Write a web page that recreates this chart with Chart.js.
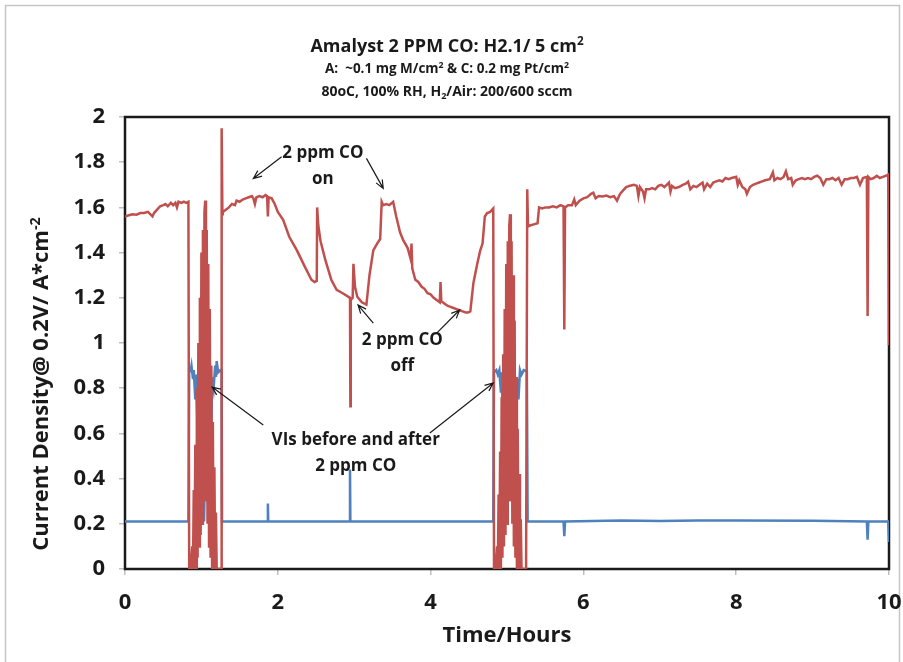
<!DOCTYPE html>
<html>
<head>
<meta charset="utf-8">
<script src="https://cdn.jsdelivr.net/npm/chart.js"></script>
<style>
    body { margin: 0; background: #fff; }
    .chart-box { width: 903px; height: 662px; position: relative; }
</style>
</head>
<body>
<div class="chart-box">
    <canvas id="co-chart"></canvas>
</div>

<script>
    // Serie roja: densidad de corriente (tiempo en horas, valor en A/cm2)
    var redTime = [
        0.00, 0.05, 0.10, 0.15, 0.20, 0.25, 0.30, 0.33, 0.36, 0.38, 0.42, 0.46, 0.50, 0.53, 0.56, 0.60, 0.63, 0.66, 0.68, 0.70, 0.74, 0.77, 0.80, 0.83,
        0.84, 0.86, 0.88, 0.89, 0.90, 0.91, 0.92, 0.93, 0.94, 0.95, 0.96, 0.97, 0.98, 0.99, 1.00, 1.01, 1.02, 1.03, 1.04, 1.05,
        1.06, 1.07, 1.08, 1.09, 1.10, 1.11, 1.12, 1.13, 1.14, 1.15, 1.16, 1.17, 1.18, 1.19, 1.20, 1.22, 1.25, 1.26, 1.265, 1.275,
        1.28, 1.32, 1.36, 1.40, 1.44, 1.46, 1.50, 1.54, 1.58, 1.62, 1.66, 1.68, 1.70, 1.72, 1.76, 1.80, 1.84, 1.86, 1.87, 1.88, 1.92, 1.96, 2.00, 2.07,
        2.15, 2.25, 2.35, 2.44, 2.48, 2.51, 2.515, 2.53, 2.56, 2.62, 2.70, 2.77, 2.85, 2.92, 2.945, 2.95, 2.955, 2.98, 2.99, 3.01, 3.04, 3.10, 3.16,
        3.20, 3.25, 3.30, 3.34, 3.36, 3.38, 3.42, 3.46, 3.51, 3.55, 3.60, 3.64, 3.70, 3.74, 3.75, 3.76, 3.80, 3.84, 3.88, 3.92, 3.96, 4.00, 4.04, 4.08,
        4.12, 4.13, 4.14, 4.18, 4.22, 4.26, 4.30, 4.34, 4.38, 4.42, 4.46, 4.49, 4.52, 4.56, 4.61, 4.65, 4.68, 4.71, 4.74, 4.78, 4.82,
        4.83, 4.85, 4.87, 4.88, 4.89, 4.90, 4.91, 4.92, 4.93, 4.94, 4.95, 4.96, 4.97, 4.98, 4.99, 5.00, 5.01, 5.02, 5.03, 5.04,
        5.05, 5.06, 5.07, 5.08, 5.09, 5.10, 5.11, 5.12, 5.13, 5.14, 5.15, 5.16, 5.17, 5.18, 5.19, 5.21, 5.25, 5.26, 5.265, 5.275,
        5.30, 5.35, 5.40, 5.42, 5.46, 5.50, 5.55, 5.60, 5.65, 5.70, 5.74, 5.75, 5.76, 5.80, 5.85, 5.88, 5.90, 5.95, 6.00, 6.05, 6.10, 6.13, 6.16, 6.20,
        6.25, 6.30, 6.35, 6.40, 6.44, 6.48, 6.52, 6.56, 6.60, 6.66, 6.70, 6.72, 6.74, 6.78, 6.80, 6.82, 6.86, 6.90, 6.94, 6.98, 7.02, 7.06, 7.09, 7.12,
        7.14, 7.16, 7.20, 7.25, 7.30, 7.34, 7.37, 7.40, 7.44, 7.48, 7.52, 7.56, 7.58, 7.62, 7.66, 7.70, 7.74, 7.78, 7.82, 7.86, 7.90, 7.94, 8.00, 8.02,
        8.04, 8.08, 8.12, 8.14, 8.18, 8.22, 8.26, 8.30, 8.34, 8.38, 8.44, 8.48, 8.50, 8.54, 8.58, 8.62, 8.65, 8.68, 8.72, 8.74, 8.78, 8.82, 8.86, 8.90,
        8.94, 8.98, 9.02, 9.06, 9.10, 9.14, 9.18, 9.22, 9.26, 9.30, 9.34, 9.38, 9.42, 9.46, 9.50, 9.54, 9.58, 9.62, 9.66, 9.70, 9.71, 9.72, 9.73, 9.76,
        9.80, 9.84, 9.88, 9.92, 9.96, 9.99, 10.00
    ];
    var redValue = [
        1.56, 1.565, 1.57, 1.568, 1.575, 1.575, 1.58, 1.57, 1.56, 1.575, 1.59, 1.605, 1.61, 1.615, 1.605, 1.62, 1.61, 1.62, 1.60, 1.625, 1.62, 1.625, 1.62, 1.625,
        0, 0, 0.1, 0, 0.35, 0, 0.55, 0, 0.8, 0.05, 1.0, 0.1, 1.2, 0.15, 1.4, 0.2, 1.5, 0.3, 1.58, 1.63,
        0.3, 1.5, 0.2, 1.35, 0.1, 1.15, 0.05, 0.9, 0, 0.65, 0, 0.45, 0, 0.25, 0, 0, 0, 0, 1.95, 1.57,
        1.58, 1.59, 1.60, 1.615, 1.61, 1.63, 1.625, 1.635, 1.64, 1.645, 1.65, 1.64, 1.615, 1.645, 1.65, 1.645, 1.655, 1.65, 1.56, 1.645, 1.64, 1.615, 1.58, 1.545,
        1.47, 1.41, 1.34, 1.28, 1.27, 1.275, 1.60, 1.52, 1.45, 1.37, 1.28, 1.235, 1.22, 1.205, 1.20, 0.72, 1.19, 1.20, 1.35, 1.25, 1.205, 1.18, 1.17,
        1.30, 1.41, 1.44, 1.46, 1.625, 1.61, 1.615, 1.61, 1.625, 1.56, 1.49, 1.456, 1.42, 1.37, 1.44, 1.33, 1.28, 1.27, 1.25, 1.24, 1.22, 1.215, 1.20, 1.19,
        1.18, 1.27, 1.185, 1.175, 1.165, 1.16, 1.155, 1.15, 1.145, 1.14, 1.135, 1.135, 1.14, 1.265, 1.35, 1.41, 1.44, 1.56, 1.575, 1.58, 1.595,
        0, 0, 0.1, 0, 0.33, 0, 0.52, 0, 0.76, 0.05, 0.95, 0.1, 1.15, 0.15, 1.35, 0.2, 1.45, 0.3, 1.52, 1.57,
        0.3, 1.45, 0.2, 1.3, 0.1, 1.1, 0.05, 0.85, 0, 0.62, 0, 0.42, 0, 0.22, 0, 0, 0, 0, 1.68, 1.515,
        1.52, 1.525, 1.53, 1.60, 1.595, 1.60, 1.60, 1.605, 1.60, 1.61, 1.605, 1.06, 1.60, 1.61, 1.61, 1.635, 1.61, 1.63, 1.64, 1.645, 1.66, 1.665, 1.64, 1.65,
        1.648, 1.652, 1.645, 1.65, 1.63, 1.66, 1.675, 1.69, 1.695, 1.70, 1.695, 1.65, 1.69, 1.67, 1.64, 1.68, 1.68, 1.685, 1.68, 1.695, 1.70, 1.69, 1.70, 1.71,
        1.67, 1.695, 1.685, 1.69, 1.70, 1.705, 1.714, 1.68, 1.695, 1.69, 1.70, 1.71, 1.68, 1.705, 1.69, 1.71, 1.715, 1.72, 1.715, 1.73, 1.725, 1.73, 1.735, 1.70,
        1.72, 1.69, 1.68, 1.66, 1.69, 1.70, 1.705, 1.71, 1.715, 1.72, 1.725, 1.755, 1.72, 1.73, 1.725, 1.735, 1.76, 1.725, 1.73, 1.70, 1.72, 1.725, 1.73, 1.725,
        1.73, 1.725, 1.735, 1.74, 1.73, 1.70, 1.725, 1.725, 1.73, 1.72, 1.73, 1.70, 1.725, 1.725, 1.73, 1.73, 1.735, 1.70, 1.73, 1.735, 1.74, 1.12, 1.735, 1.725,
        1.73, 1.74, 1.73, 1.735, 1.74, 1.745, 0.99
    ];

    // Serie azul: corriente de referencia con los barridos VI
    var blueTime = [
        0.00, 0.83, 0.84, 0.86, 0.87, 0.89, 0.90, 0.92, 0.93, 0.95, 0.96, 0.98, 0.99, 1.01, 1.02, 1.035, 1.05, 1.07, 1.08, 1.10, 1.11, 1.13, 1.14, 1.16,
        1.18, 1.19, 1.20, 1.22, 1.25, 1.265, 1.27, 1.86, 1.87, 1.875, 2.94, 2.945, 2.95, 4.82,
        4.83, 4.86, 4.88, 4.90, 4.92, 4.93, 4.95, 4.97, 4.99, 5.01, 5.03, 5.05, 5.07, 5.09, 5.11, 5.13, 5.15, 5.17, 5.19, 5.22, 5.26, 5.27,
        5.74, 5.75, 5.76, 6.50, 7.00, 7.50, 8.00, 9.00, 9.71, 9.72, 9.73, 9.99, 10.00
    ];
    var blueValue = [
        0.21, 0.21, 0.89, 0.88, 0.90, 0.84, 0.88, 0.75, 0.86, 0.62, 0.80, 0.50, 0.70, 0.35, 0.60, 0.21, 0.50, 0.30, 0.60, 0.45, 0.75, 0.60, 0.85, 0.80,
        0.90, 0.85, 0.92, 0.87, 0.88, 0.88, 0.21, 0.21, 0.29, 0.21, 0.21, 0.44, 0.21, 0.21,
        0.87, 0.88, 0.86, 0.88, 0.78, 0.87, 0.60, 0.82, 0.45, 0.70, 0.30, 0.55, 0.35, 0.70, 0.55, 0.84, 0.75, 0.88, 0.86, 0.88, 0.875, 0.21,
        0.21, 0.145, 0.21, 0.215, 0.212, 0.215, 0.215, 0.213, 0.21, 0.13, 0.21, 0.21, 0.12
    ];

    // Etiquetas de los ejes
    var xTicks = [0, 2, 4, 6, 8, 10];
    var yTicks = [0, 0.2, 0.4, 0.6, 0.8, 1, 1.2, 1.4, 1.6, 1.8, 2];

    // Anotaciones (posiciones en unidades de los datos)
    var noteTexts = [['2 ppm CO', 'on'], ['2 ppm CO', 'off'], ['VIs before and after', '2 ppm CO']];
    var noteX = [2.59, 3.63, 3.02];
    var noteY = [1.84, 1.013, 0.571];
    var arrowFrom = [[2.05, 1.824], [3.16, 1.817], [3.25, 1.088], [4.08, 1.044], [1.81, 0.637], [3.99, 0.602]];
    var arrowTo = [[1.68, 1.728], [3.38, 1.684], [3.05, 1.168], [4.38, 1.146], [1.14, 0.805], [4.82, 0.823]];

    var FONT = '"Open Sans", "DejaVu Sans", sans-serif';

    function toPoints(xs, ys) {
        return xs.map(function (x, i) { return { x: x, y: ys[i] }; });
    }

    // Dibuja texto con superindices / subindices, centrado en cx
    function drawRich(ctx, parts, cx, cy, size) {
        var widths = [];
        var total = 0;
        parts.forEach(function (p) {
            var s = p[1] ? size * 0.65 : size;
            ctx.font = 'bold ' + s + 'px ' + FONT;
            var w = ctx.measureText(p[0]).width;
            widths.push(w);
            total += w;
        });
        var x = cx - total / 2;
        ctx.textAlign = 'left';
        ctx.textBaseline = 'alphabetic';
        parts.forEach(function (p, i) {
            var s = p[1] ? size * 0.65 : size;
            var dy = p[1] === 'sup' ? -size * 0.38 : (p[1] === 'sub' ? size * 0.2 : 0);
            ctx.font = 'bold ' + s + 'px ' + FONT;
            ctx.fillText(p[0], x, cy + dy);
            x += widths[i];
        });
    }

    function drawArrow(ctx, x1, y1, x2, y2) {
        var ang = Math.atan2(y2 - y1, x2 - x1);
        var head = 9;
        ctx.beginPath();
        ctx.moveTo(x1, y1);
        ctx.lineTo(x2, y2);
        ctx.moveTo(x2 - head * Math.cos(ang - 0.4), y2 - head * Math.sin(ang - 0.4));
        ctx.lineTo(x2, y2);
        ctx.lineTo(x2 - head * Math.cos(ang + 0.4), y2 - head * Math.sin(ang + 0.4));
        ctx.stroke();
    }

    // Borde exterior (debajo de todo) y marco del area de la grafica (debajo de las lineas)
    var framePlugin = {
        id: 'frame',
        beforeDraw: function (chart) {
            var ctx = chart.ctx;
            ctx.save();
            ctx.strokeStyle = '#c6c6c6';
            ctx.lineWidth = 1.5;
            ctx.strokeRect(5.5, 5.5, 894, 660);
            ctx.restore();
        },
        beforeDatasetsDraw: function (chart) {
            var a = chart.chartArea;
            var ctx = chart.ctx;
            ctx.save();
            ctx.strokeStyle = '#1a1a1a';
            ctx.lineWidth = 2.5;
            ctx.strokeRect(a.left, a.top, a.right - a.left, a.bottom - a.top);
            ctx.restore();
        }
    };

    // Titulos, textos de los ejes y anotaciones
    var textPlugin = {
        id: 'texts',
        afterDraw: function (chart) {
            var ctx = chart.ctx;
            var xs = chart.scales.x;
            var ys = chart.scales.y;
            ctx.save();
            ctx.fillStyle = '#1a1a1a';

            drawRich(ctx, [['Amalyst 2 PPM CO: H2.1/ 5 cm', ''], ['2', 'sup']], 447, 52, 18);
            drawRich(ctx, [['A:  ~0.1 mg M/cm', ''], ['2', 'sup'], [' & C: 0.2 mg Pt/cm', ''], ['2', 'sup']], 447, 73, 13.5);
            drawRich(ctx, [['80oC, 100% RH, H', ''], ['2', 'sub'], ['/Air: 200/600 sccm', '']], 447, 96, 14);

            drawRich(ctx, [['Time/Hours', '']], (xs.left + xs.right) / 2, 642, 22);

            ctx.save();
            ctx.translate(48, 384);
            ctx.rotate(-Math.PI / 2);
            drawRich(ctx, [['Current Density@ 0.2V/ A*cm', ''], ['-2', 'sup']], 0, 0, 22);
            ctx.restore();

            ctx.textAlign = 'center';
            ctx.textBaseline = 'middle';
            ctx.font = 'bold 17px ' + FONT;
            noteTexts.forEach(function (lines, i) {
                var cx = xs.getPixelForValue(noteX[i]);
                var cy = ys.getPixelForValue(noteY[i]);
                lines.forEach(function (t, j) {
                    ctx.fillText(t, cx, cy + j * 26);
                });
            });

            ctx.strokeStyle = '#1a1a1a';
            ctx.lineWidth = 1.2;
            arrowFrom.forEach(function (f, i) {
                var t = arrowTo[i];
                drawArrow(ctx, xs.getPixelForValue(f[0]), ys.getPixelForValue(f[1]),
                    xs.getPixelForValue(t[0]), ys.getPixelForValue(t[1]));
            });
            ctx.restore();
        }
    };

    var ctx = document.getElementById('co-chart').getContext('2d');

    var coChart = new Chart(ctx, {
        type: 'line',
        data: {
            datasets: [{
                label: 'Current',
                data: toPoints(redTime, redValue),
                borderColor: '#c0504d',
                borderWidth: 2.5,
                pointRadius: 0,
                tension: 0,
                fill: false
            }, {
                label: 'Reference',
                data: toPoints(blueTime, blueValue),
                borderColor: '#4f81bd',
                borderWidth: 2.5,
                pointRadius: 0,
                tension: 0,
                fill: false
            }]
        },
        options: {
            responsive: true,
            maintainAspectRatio: false,
            animation: false,
            layout: { padding: { top: 117, right: 14, left: 0, bottom: 0 } },
            plugins: {
                legend: { display: false },
                tooltip: { enabled: false }
            },
            scales: {
                x: {
                    type: 'linear',
                    min: 0,
                    max: 10,
                    afterFit: function (scale) {
                        scale.height = 93;
                        scale.paddingLeft = 0;
                        scale.paddingRight = 0;
                    },
                    afterBuildTicks: function (scale) {
                        scale.ticks = xTicks.map(function (v) { return { value: v }; });
                    },
                    grid: { drawOnChartArea: false, color: '#bfbfbf', tickLength: 6, lineWidth: 1.5 },
                    border: { display: false },
                    ticks: {
                        color: '#1a1a1a',
                        padding: 15,
                        maxRotation: 0,
                        font: { family: FONT, size: 22, weight: 'bold' },
                        callback: function (v) { return String(v); }
                    }
                },
                y: {
                    min: 0,
                    max: 2,
                    afterFit: function (scale) {
                        scale.width = 125;
                        scale.paddingTop = 0;
                        scale.paddingBottom = 0;
                    },
                    afterBuildTicks: function (scale) {
                        scale.ticks = yTicks.map(function (v) { return { value: v }; });
                    },
                    grid: { drawOnChartArea: false, color: '#bfbfbf', tickLength: 6, lineWidth: 1.5 },
                    border: { display: false },
                    ticks: {
                        color: '#1a1a1a',
                        padding: 14,
                        font: { family: FONT, size: 22, weight: 'bold' },
                        callback: function (v) { return String(Math.round(v * 10) / 10); }
                    }
                }
            }
        },
        plugins: [framePlugin, textPlugin]
    });
</script>
</body>
</html>
